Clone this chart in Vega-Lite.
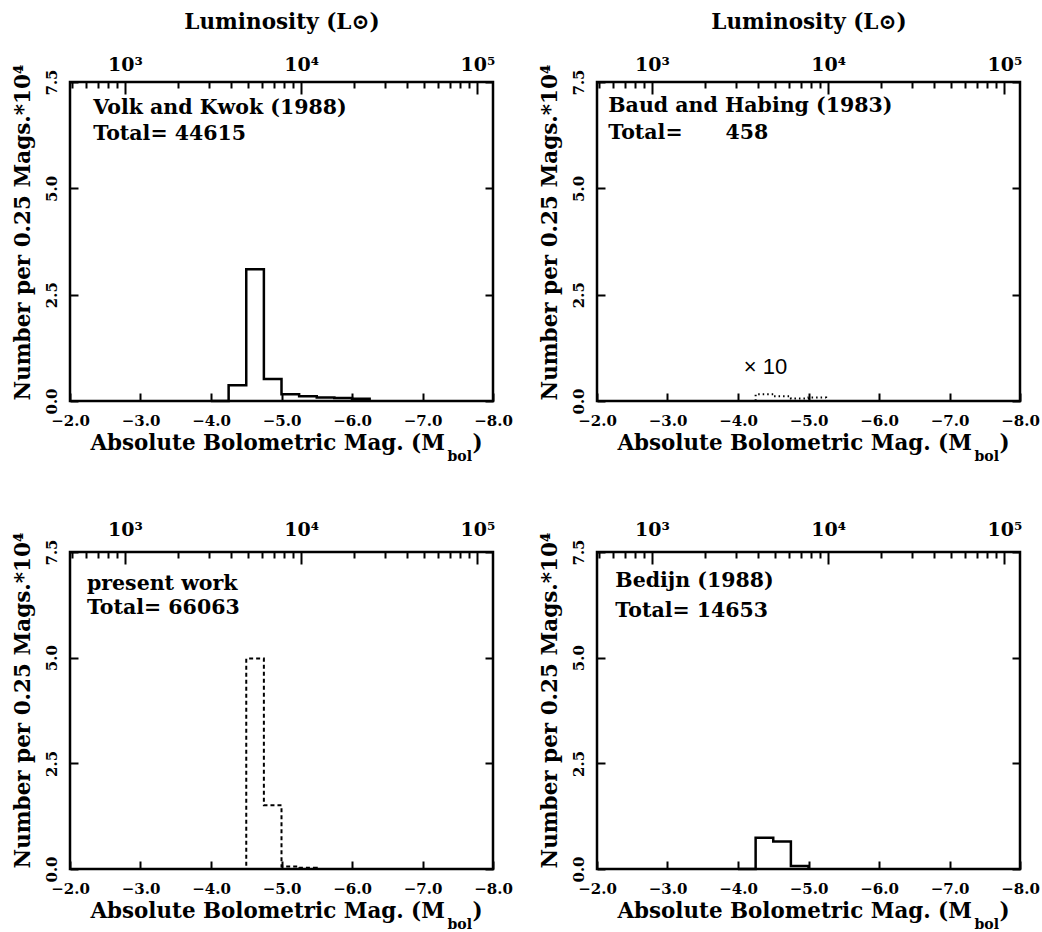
{
  "$schema": "https://vega.github.io/schema/vega-lite/v6.json",
  "padding": {"left": 10, "top": 9, "right": 5, "bottom": 5},
  "background": "white",
  "datasets": {
    "hist": [
      {"panel": "VK", "mag": -4.0, "n": 0},
      {"panel": "VK", "mag": -4.25, "n": 0.37},
      {"panel": "VK", "mag": -4.5, "n": 3.10},
      {"panel": "VK", "mag": -4.75, "n": 0.52},
      {"panel": "VK", "mag": -5.0, "n": 0.16},
      {"panel": "VK", "mag": -5.25, "n": 0.11},
      {"panel": "VK", "mag": -5.5, "n": 0.08},
      {"panel": "VK", "mag": -5.75, "n": 0.07},
      {"panel": "VK", "mag": -6.0, "n": 0.05},
      {"panel": "VK", "mag": -6.25, "n": 0},
      {"panel": "BH", "mag": -4.0, "n": 0},
      {"panel": "BH", "mag": -4.25, "n": 0.16},
      {"panel": "BH", "mag": -4.5, "n": 0.11},
      {"panel": "BH", "mag": -4.75, "n": 0.06},
      {"panel": "BH", "mag": -5.0, "n": 0.08},
      {"panel": "BH", "mag": -5.25, "n": 0},
      {"panel": "PW", "mag": -4.25, "n": 0},
      {"panel": "PW", "mag": -4.5, "n": 4.98},
      {"panel": "PW", "mag": -4.75, "n": 1.51},
      {"panel": "PW", "mag": -5.0, "n": 0.06},
      {"panel": "PW", "mag": -5.25, "n": 0.03},
      {"panel": "PW", "mag": -5.5, "n": 0},
      {"panel": "BE", "mag": -4.0, "n": 0},
      {"panel": "BE", "mag": -4.25, "n": 0.74},
      {"panel": "BE", "mag": -4.5, "n": 0.65},
      {"panel": "BE", "mag": -4.75, "n": 0.07},
      {"panel": "BE", "mag": -5.0, "n": 0}
    ],
    "labels": [
      {"panel": "VK", "text": "Volk and Kwok (1988)\nTotal= 44615"},
      {"panel": "BH", "text": "Baud and Habing (1983)\nTotal=\u00a0\u00a0\u00a0\u00a0\u00a0\u00a0458"},
      {"panel": "PW", "text": "present work\nTotal= 66063"},
      {"panel": "BE", "text": "Bedijn (1988)\nTotal= 14653"}
    ],
    "factor": [{"panel": "BH", "text": "× 10"}],
    "lum": [{"L": 1000}, {"L": 10000}, {"L": 100000}],
    "lumminor": [
      {"L": 500}, {"L": 600}, {"L": 700}, {"L": 800}, {"L": 900},
      {"L": 2000}, {"L": 3000}, {"L": 4000}, {"L": 5000}, {"L": 6000}, {"L": 7000}, {"L": 8000}, {"L": 9000},
      {"L": 20000}, {"L": 30000}, {"L": 40000}, {"L": 50000}, {"L": 60000}, {"L": 70000}, {"L": 80000}, {"L": 90000}
    ]
  },
  "columns": 2,
  "bounds": "flush",
  "spacing": {"row": 151, "column": 104},
  "concat": [
    {
      "width": 423, "height": 319,
      "layer": [
        {
          "data": {"name": "hist"},
          "transform": [{"filter": "datum.panel === 'VK'"}],
          "mark": {"type": "line", "interpolate": "step-after", "color": "black", "strokeWidth": 2.5},
          "encoding": {
            "x": {"field": "mag", "type": "quantitative", "scale": {"domain": [-8, -2], "reverse": true, "nice": false, "zero": false},
              "axis": {"orient": "bottom", "values": [-2, -3, -4, -5, -6, -7, -8], "format": ".1f", "tickSize": -8, "labelPadding": 20, "title": "Absolute Bolometric Mag. (M", "titleFontSize": 21.4, "titleX": 20, "titleY": 48, "titleAlign": "left", "titleBaseline": "alphabetic"}},
            "y": {"field": "n", "type": "quantitative", "scale": {"domain": [0, 7.5], "nice": false, "zero": false},
              "axis": {"orient": "left", "values": [0, 2.5, 5, 7.5], "format": ".1f", "tickSize": -8, "labelPadding": 19, "labelAngle": -90, "labelAlign": "center", "labelBaseline": "bottom", "title": "Number per 0.25 Mags.*10⁴", "titleFontSize": 21.5, "titlePadding": 10, "titleY": 150}},
            "order": {"field": "mag", "sort": "descending"}
          }
        },
        {
          "data": {"name": "labels"},
          "transform": [{"filter": "datum.panel === 'VK'"}],
          "mark": {"type": "text", "align": "left", "baseline": "alphabetic", "font": "DejaVu Serif", "fontWeight": "bold", "fontSize": 20.5, "lineBreak": "\n", "lineHeight": 26, "color": "black"},
          "encoding": {
            "x": {"datum": -2.33, "type": "quantitative", "scale": {"domain": [-8, -2], "reverse": true, "nice": false, "zero": false}, "axis": null},
            "y": {"datum": 6.75, "type": "quantitative", "axis": null},
            "text": {"field": "text"}
          }
        },
        {
          "data": {"name": "lum"},
          "mark": {"type": "point", "opacity": 0},
          "encoding": {
            "x": {"field": "L", "type": "quantitative", "scale": {"type": "log", "domain": [487.5, 122462], "nice": false},
              "axis": {"orient": "top", "values": [1000, 10000, 100000], "labelExpr": "datum.value == 1000 ? '10³' : datum.value == 10000 ? '10⁴' : '10⁵'", "tickSize": -12, "labelPadding": 20, "labelFontSize": 19, "title": "Luminosity (L⊙)", "titleFontSize": 21.5, "titlePadding": 22}},
            "y": {"datum": 0, "type": "quantitative",
              "axis": {"orient": "right", "values": [0, 2.5, 5, 7.5], "tickSize": -8, "labels": false, "title": "bol", "titleAngle": 0, "titleX": -46, "titleY": 378, "titleAlign": "left", "titleBaseline": "alphabetic", "titleFontSize": 14}}
          }
        },
        {
          "data": {"name": "lumminor"},
          "mark": {"type": "point", "opacity": 0},
          "encoding": {
            "x": {"field": "L", "type": "quantitative", "scale": {"type": "log", "domain": [487.5, 122462], "nice": false},
              "axis": {"orient": "top", "values": [500, 600, 700, 800, 900, 2000, 3000, 4000, 5000, 6000, 7000, 8000, 9000, 20000, 30000, 40000, 50000, 60000, 70000, 80000, 90000], "labels": false, "tickSize": -6, "title": ")", "titleFontSize": 21.4, "titleX": 402, "titleY": 367, "titleAlign": "left", "titleBaseline": "alphabetic", "titleAngle": 0}},
            "y": {"datum": 0, "type": "quantitative", "axis": null}
          }
        }
      ],
      "resolve": {"scale": {"x": "independent"}, "axis": {"x": "independent", "y": "independent"}}
    },
    {
      "width": 423, "height": 319,
      "layer": [
        {
          "data": {"name": "hist"},
          "transform": [{"filter": "datum.panel === 'BH'"}],
          "mark": {"type": "line", "interpolate": "step-after", "color": "black", "strokeWidth": 2, "strokeDash": [1.5, 3]},
          "encoding": {
            "x": {"field": "mag", "type": "quantitative", "scale": {"domain": [-8, -2], "reverse": true, "nice": false, "zero": false},
              "axis": {"orient": "bottom", "values": [-2, -3, -4, -5, -6, -7, -8], "format": ".1f", "tickSize": -8, "labelPadding": 20, "title": "Absolute Bolometric Mag. (M", "titleFontSize": 21.4, "titleX": 20, "titleY": 48, "titleAlign": "left", "titleBaseline": "alphabetic"}},
            "y": {"field": "n", "type": "quantitative", "scale": {"domain": [0, 7.5], "nice": false, "zero": false},
              "axis": {"orient": "left", "values": [0, 2.5, 5, 7.5], "format": ".1f", "tickSize": -8, "labelPadding": 19, "labelAngle": -90, "labelAlign": "center", "labelBaseline": "bottom", "title": "Number per 0.25 Mags.*10⁴", "titleFontSize": 21.5, "titlePadding": 10, "titleY": 150}},
            "order": {"field": "mag", "sort": "descending"}
          }
        },
        {
          "data": {"name": "labels"},
          "transform": [{"filter": "datum.panel === 'BH'"}],
          "mark": {"type": "text", "align": "left", "baseline": "alphabetic", "font": "DejaVu Serif", "fontWeight": "bold", "fontSize": 20.5, "lineBreak": "\n", "lineHeight": 27, "color": "black"},
          "encoding": {
            "x": {"datum": -2.16, "type": "quantitative", "scale": {"domain": [-8, -2], "reverse": true, "nice": false, "zero": false}, "axis": null},
            "y": {"datum": 6.8, "type": "quantitative", "axis": null},
            "text": {"field": "text"}
          }
        },
        {
          "data": {"name": "factor"},
          "mark": {"type": "text", "align": "center", "baseline": "alphabetic", "font": "Liberation Sans", "fontSize": 22, "color": "black"},
          "encoding": {
            "x": {"datum": -4.39, "type": "quantitative", "scale": {"domain": [-8, -2], "reverse": true, "nice": false, "zero": false}, "axis": null},
            "y": {"datum": 0.64, "type": "quantitative", "axis": null},
            "text": {"field": "text"}
          }
        },
        {
          "data": {"name": "lum"},
          "mark": {"type": "point", "opacity": 0},
          "encoding": {
            "x": {"field": "L", "type": "quantitative", "scale": {"type": "log", "domain": [487.5, 122462], "nice": false},
              "axis": {"orient": "top", "values": [1000, 10000, 100000], "labelExpr": "datum.value == 1000 ? '10³' : datum.value == 10000 ? '10⁴' : '10⁵'", "tickSize": -12, "labelPadding": 20, "labelFontSize": 19, "title": "Luminosity (L⊙)", "titleFontSize": 21.5, "titlePadding": 22}},
            "y": {"datum": 0, "type": "quantitative",
              "axis": {"orient": "right", "values": [0, 2.5, 5, 7.5], "tickSize": -8, "labels": false, "title": "bol", "titleAngle": 0, "titleX": -46, "titleY": 378, "titleAlign": "left", "titleBaseline": "alphabetic", "titleFontSize": 14}}
          }
        },
        {
          "data": {"name": "lumminor"},
          "mark": {"type": "point", "opacity": 0},
          "encoding": {
            "x": {"field": "L", "type": "quantitative", "scale": {"type": "log", "domain": [487.5, 122462], "nice": false},
              "axis": {"orient": "top", "values": [500, 600, 700, 800, 900, 2000, 3000, 4000, 5000, 6000, 7000, 8000, 9000, 20000, 30000, 40000, 50000, 60000, 70000, 80000, 90000], "labels": false, "tickSize": -6, "title": ")", "titleFontSize": 21.4, "titleX": 402, "titleY": 367, "titleAlign": "left", "titleBaseline": "alphabetic", "titleAngle": 0}},
            "y": {"datum": 0, "type": "quantitative", "axis": null}
          }
        }
      ],
      "resolve": {"scale": {"x": "independent"}, "axis": {"x": "independent", "y": "independent"}}
    },
    {
      "width": 423, "height": 317,
      "layer": [
        {
          "data": {"name": "hist"},
          "transform": [{"filter": "datum.panel === 'PW'"}],
          "mark": {"type": "line", "interpolate": "step-after", "color": "black", "strokeWidth": 2, "strokeDash": [4, 3]},
          "encoding": {
            "x": {"field": "mag", "type": "quantitative", "scale": {"domain": [-8, -2], "reverse": true, "nice": false, "zero": false},
              "axis": {"orient": "bottom", "values": [-2, -3, -4, -5, -6, -7, -8], "format": ".1f", "tickSize": -8, "labelPadding": 20, "title": "Absolute Bolometric Mag. (M", "titleFontSize": 21.4, "titleX": 20, "titleY": 48, "titleAlign": "left", "titleBaseline": "alphabetic"}},
            "y": {"field": "n", "type": "quantitative", "scale": {"domain": [0, 7.5], "nice": false, "zero": false},
              "axis": {"orient": "left", "values": [0, 2.5, 5, 7.5], "format": ".1f", "tickSize": -8, "labelPadding": 19, "labelAngle": -90, "labelAlign": "center", "labelBaseline": "bottom", "title": "Number per 0.25 Mags.*10⁴", "titleFontSize": 21.5, "titlePadding": 10, "titleY": 148}},
            "order": {"field": "mag", "sort": "descending"}
          }
        },
        {
          "data": {"name": "labels"},
          "transform": [{"filter": "datum.panel === 'PW'"}],
          "mark": {"type": "text", "align": "left", "baseline": "alphabetic", "font": "DejaVu Serif", "fontWeight": "bold", "fontSize": 20.5, "lineBreak": "\n", "lineHeight": 24, "color": "black"},
          "encoding": {
            "x": {"datum": -2.24, "type": "quantitative", "scale": {"domain": [-8, -2], "reverse": true, "nice": false, "zero": false}, "axis": null},
            "y": {"datum": 6.6, "type": "quantitative", "axis": null},
            "text": {"field": "text"}
          }
        },
        {
          "data": {"name": "lum"},
          "mark": {"type": "point", "opacity": 0},
          "encoding": {
            "x": {"field": "L", "type": "quantitative", "scale": {"type": "log", "domain": [487.5, 122462], "nice": false},
              "axis": {"orient": "top", "values": [1000, 10000, 100000], "labelExpr": "datum.value == 1000 ? '10³' : datum.value == 10000 ? '10⁴' : '10⁵'", "tickSize": -12, "labelPadding": 25, "labelFontSize": 19, "title": null}},
            "y": {"datum": 0, "type": "quantitative",
              "axis": {"orient": "right", "values": [0, 2.5, 5, 7.5], "tickSize": -8, "labels": false, "title": "bol", "titleAngle": 0, "titleX": -46, "titleY": 376, "titleAlign": "left", "titleBaseline": "alphabetic", "titleFontSize": 14}}
          }
        },
        {
          "data": {"name": "lumminor"},
          "mark": {"type": "point", "opacity": 0},
          "encoding": {
            "x": {"field": "L", "type": "quantitative", "scale": {"type": "log", "domain": [487.5, 122462], "nice": false},
              "axis": {"orient": "top", "values": [500, 600, 700, 800, 900, 2000, 3000, 4000, 5000, 6000, 7000, 8000, 9000, 20000, 30000, 40000, 50000, 60000, 70000, 80000, 90000], "labels": false, "tickSize": -6, "title": ")", "titleFontSize": 21.4, "titleX": 402, "titleY": 365, "titleAlign": "left", "titleBaseline": "alphabetic", "titleAngle": 0}},
            "y": {"datum": 0, "type": "quantitative", "axis": null}
          }
        }
      ],
      "resolve": {"scale": {"x": "independent"}, "axis": {"x": "independent", "y": "independent"}}
    },
    {
      "width": 423, "height": 317,
      "layer": [
        {
          "data": {"name": "hist"},
          "transform": [{"filter": "datum.panel === 'BE'"}],
          "mark": {"type": "line", "interpolate": "step-after", "color": "black", "strokeWidth": 2.5},
          "encoding": {
            "x": {"field": "mag", "type": "quantitative", "scale": {"domain": [-8, -2], "reverse": true, "nice": false, "zero": false},
              "axis": {"orient": "bottom", "values": [-2, -3, -4, -5, -6, -7, -8], "format": ".1f", "tickSize": -8, "labelPadding": 20, "title": "Absolute Bolometric Mag. (M", "titleFontSize": 21.4, "titleX": 20, "titleY": 48, "titleAlign": "left", "titleBaseline": "alphabetic"}},
            "y": {"field": "n", "type": "quantitative", "scale": {"domain": [0, 7.5], "nice": false, "zero": false},
              "axis": {"orient": "left", "values": [0, 2.5, 5, 7.5], "format": ".1f", "tickSize": -8, "labelPadding": 19, "labelAngle": -90, "labelAlign": "center", "labelBaseline": "bottom", "title": "Number per 0.25 Mags.*10⁴", "titleFontSize": 21.5, "titlePadding": 10, "titleY": 148}},
            "order": {"field": "mag", "sort": "descending"}
          }
        },
        {
          "data": {"name": "labels"},
          "transform": [{"filter": "datum.panel === 'BE'"}],
          "mark": {"type": "text", "align": "left", "baseline": "alphabetic", "font": "DejaVu Serif", "fontWeight": "bold", "fontSize": 20.5, "lineBreak": "\n", "lineHeight": 30, "color": "black"},
          "encoding": {
            "x": {"datum": -2.26, "type": "quantitative", "scale": {"domain": [-8, -2], "reverse": true, "nice": false, "zero": false}, "axis": null},
            "y": {"datum": 6.67, "type": "quantitative", "axis": null},
            "text": {"field": "text"}
          }
        },
        {
          "data": {"name": "lum"},
          "mark": {"type": "point", "opacity": 0},
          "encoding": {
            "x": {"field": "L", "type": "quantitative", "scale": {"type": "log", "domain": [487.5, 122462], "nice": false},
              "axis": {"orient": "top", "values": [1000, 10000, 100000], "labelExpr": "datum.value == 1000 ? '10³' : datum.value == 10000 ? '10⁴' : '10⁵'", "tickSize": -12, "labelPadding": 25, "labelFontSize": 19, "title": null}},
            "y": {"datum": 0, "type": "quantitative",
              "axis": {"orient": "right", "values": [0, 2.5, 5, 7.5], "tickSize": -8, "labels": false, "title": "bol", "titleAngle": 0, "titleX": -46, "titleY": 376, "titleAlign": "left", "titleBaseline": "alphabetic", "titleFontSize": 14}}
          }
        },
        {
          "data": {"name": "lumminor"},
          "mark": {"type": "point", "opacity": 0},
          "encoding": {
            "x": {"field": "L", "type": "quantitative", "scale": {"type": "log", "domain": [487.5, 122462], "nice": false},
              "axis": {"orient": "top", "values": [500, 600, 700, 800, 900, 2000, 3000, 4000, 5000, 6000, 7000, 8000, 9000, 20000, 30000, 40000, 50000, 60000, 70000, 80000, 90000], "labels": false, "tickSize": -6, "title": ")", "titleFontSize": 21.4, "titleX": 402, "titleY": 365, "titleAlign": "left", "titleBaseline": "alphabetic", "titleAngle": 0}},
            "y": {"datum": 0, "type": "quantitative", "axis": null}
          }
        }
      ],
      "resolve": {"scale": {"x": "independent"}, "axis": {"x": "independent", "y": "independent"}}
    }
  ],
  "config": {
    "font": "DejaVu Serif",
    "view": {"stroke": "black", "strokeWidth": 2.5},
    "axis": {
      "domain": false, "grid": false,
      "tickColor": "black", "tickWidth": 2,
      "labelColor": "black", "titleColor": "black",
      "labelFont": "DejaVu Serif", "titleFont": "DejaVu Serif",
      "labelFontWeight": "bold", "titleFontWeight": "bold",
      "labelFontSize": 15, "titleFontSize": 20,
      "labelFlush": false, "labelOverlap": false
    }
  }
}
